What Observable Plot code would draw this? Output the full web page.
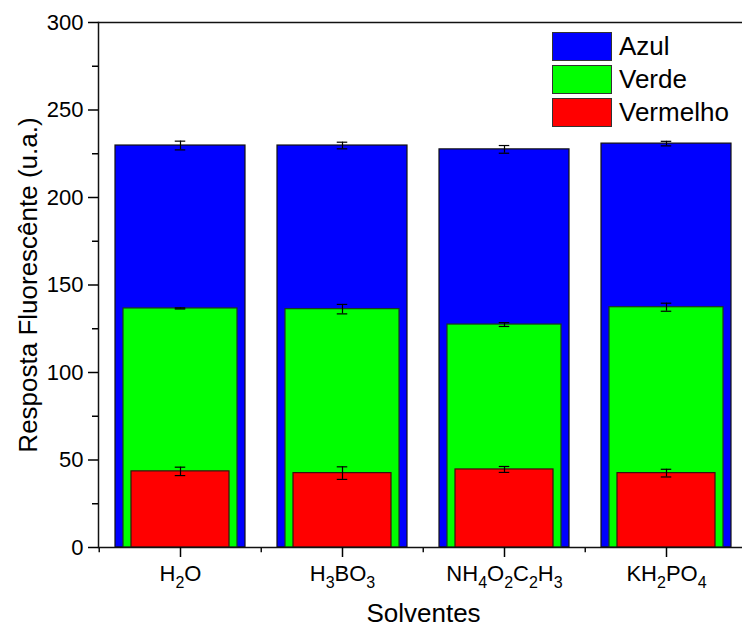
<!DOCTYPE html>
<html>
<head>
<meta charset="utf-8">
<script src="https://cdn.jsdelivr.net/npm/d3@7"></script>
<script src="https://cdn.jsdelivr.net/npm/@observablehq/plot@0.6"></script>
<style>
  html, body { margin: 0; padding: 0; background: white; overflow: hidden; }
  #wrap { position: relative; width: 742px; height: 629px; font-family: "Liberation Sans", Arial, sans-serif; }
  #legend { position: absolute; left: 552px; top: 30px; }
  .row { display: flex; align-items: center; height: 33px; }
  .sw { width: 60px; height: 29px; border: 1.5px solid #333; box-sizing: border-box; margin-right: 7px; }
  .lab { font-size: 26px; color: #000; }
</style>
</head>
<body>
<div id="wrap"></div>
<script>
// ---- data ----
const categories = ["H2O", "H3BO3", "NH4O2C2H3", "KH2PO4"];
const seriesNames = ["Azul", "Verde", "Vermelho"];
const seriesColors = ["#0000ff", "#00ff00", "#ff0000"];
const azul = [229.7, 229.7, 227.5, 230.8];
const azulErr = [2.5, 1.9, 2.2, 1.3];
const verde = [136.6, 136.2, 127.4, 137.3];
const verdeErr = [0.3, 2.7, 1.1, 2.3];
const vermelho = [43.5, 42.5, 44.6, 42.5];
const vermelhoErr = [2.4, 3.6, 1.7, 2.2];
const yMajorTicks = [0, 50, 100, 150, 200, 250, 300];
const yMinorTicks = [25, 75, 125, 175, 225, 275];

const rows = (vals, errs, s) => categories.map((c, i) => ({cat: c, value: vals[i], err: errs[i], series: s}));
const rAzul = rows(azul, azulErr, "Azul");
const rVerde = rows(verde, verdeErr, "Verde");
const rVermelho = rows(vermelho, vermelhoErr, "Vermelho");
const all = [...rAzul, ...rVerde, ...rVermelho];

const step = 162.5;
const errMarks = (data) => [
  Plot.ruleX(data, {x: "cat", y1: d => d.value - d.err, y2: d => d.value + d.err, stroke: "#000", strokeWidth: 1.2}),
  Plot.tickY(data, {x: "cat", y: d => d.value + d.err, stroke: "#000", strokeWidth: 1.2, insetLeft: (step - 11) / 2, insetRight: (step - 11) / 2}),
  Plot.tickY(data, {x: "cat", y: d => d.value - d.err, stroke: "#000", strokeWidth: 1.2, insetLeft: (step - 11) / 2, insetRight: (step - 11) / 2})
];

const chart = Plot.plot({
  width: 742,
  height: 629,
  marginLeft: 98,
  marginRight: 0,
  marginTop: 22,
  marginBottom: 82,
  x: {domain: categories, range: [98, 98 + 4 * step], padding: 0},
  y: {domain: [0, 300]},
  style: {fontFamily: "'Liberation Sans', Arial, sans-serif", color: "#000", background: "white", overflow: "hidden"},
  marks: [
    Plot.barY(rAzul, {x: "cat", y: "value", fill: seriesColors[0], stroke: "#111", strokeWidth: 1.2, insetLeft: 16, insetRight: 16}),
    Plot.barY(rVerde, {x: "cat", y: "value", fill: seriesColors[1], stroke: "#1a3a1a", strokeWidth: 1.2, insetLeft: 24, insetRight: 24}),
    Plot.barY(rVermelho, {x: "cat", y: "value", fill: seriesColors[2], stroke: "#3a1010", strokeWidth: 1.2, insetLeft: 32, insetRight: 32}),
    ...errMarks(all),
    Plot.ruleY([300], {stroke: "#111", strokeWidth: 1.5}),
    Plot.ruleY([0], {stroke: "#111", strokeWidth: 1.5}),
    Plot.frame({anchor: "left", stroke: "#111", strokeWidth: 1.5}),
    Plot.axisY({ticks: yMajorTicks, tickSize: 10, tickPadding: 5, fontSize: 22, label: null, strokeWidth: 1.5}),
    Plot.axisY({ticks: yMinorTicks, tickSize: 6, tickFormat: () => "", label: null, strokeWidth: 1.5}),
    Plot.axisX({tickSize: 10, tickPadding: 8, fontSize: 22, label: null, strokeWidth: 1.5}),
    Plot.ruleX(categories, {x: d => d, dx: -step / 2, y1: 0, y2: -3, stroke: "#111", strokeWidth: 1.5}),
    Plot.text(["Resposta Fluorescênte (u.a.)"], {frameAnchor: "left", textAnchor: "middle", lineAnchor: "middle", rotate: -90, dx: -70, fontSize: 26, fill: "#000"}),
    Plot.text(["Solventes"], {frameAnchor: "bottom", textAnchor: "middle", lineAnchor: "middle", dx: 3, dy: 66, fontSize: 26, fill: "#000"})
  ]
});

// subscripts in x tick labels
d3.select(chart).selectAll('g[aria-label="x-axis tick label"] text').each(function() {
  const t = d3.select(this);
  const s = t.text();
  t.text("");
  const parts = s.match(/\d+|\D+/g);
  let shifted = false;
  parts.forEach(p => {
    const isSub = /\d/.test(p);
    const ts = t.append("tspan").text(p);
    if (isSub) { ts.attr("font-size", 16).attr("dy", shifted ? null : 7); shifted = true; }
    else { if (shifted) ts.attr("dy", -7); shifted = false; }
  });
});

const wrap = document.getElementById("wrap");
wrap.appendChild(chart);
const legend = document.createElement("div");
legend.id = "legend";
seriesNames.forEach((n, i) => {
  const row = document.createElement("div");
  row.className = "row";
  row.innerHTML = `<div class="sw" style="background:${seriesColors[i]}"></div><span class="lab">${n}</span>`;
  legend.appendChild(row);
});
wrap.appendChild(legend);
</script>
</body>
</html>
